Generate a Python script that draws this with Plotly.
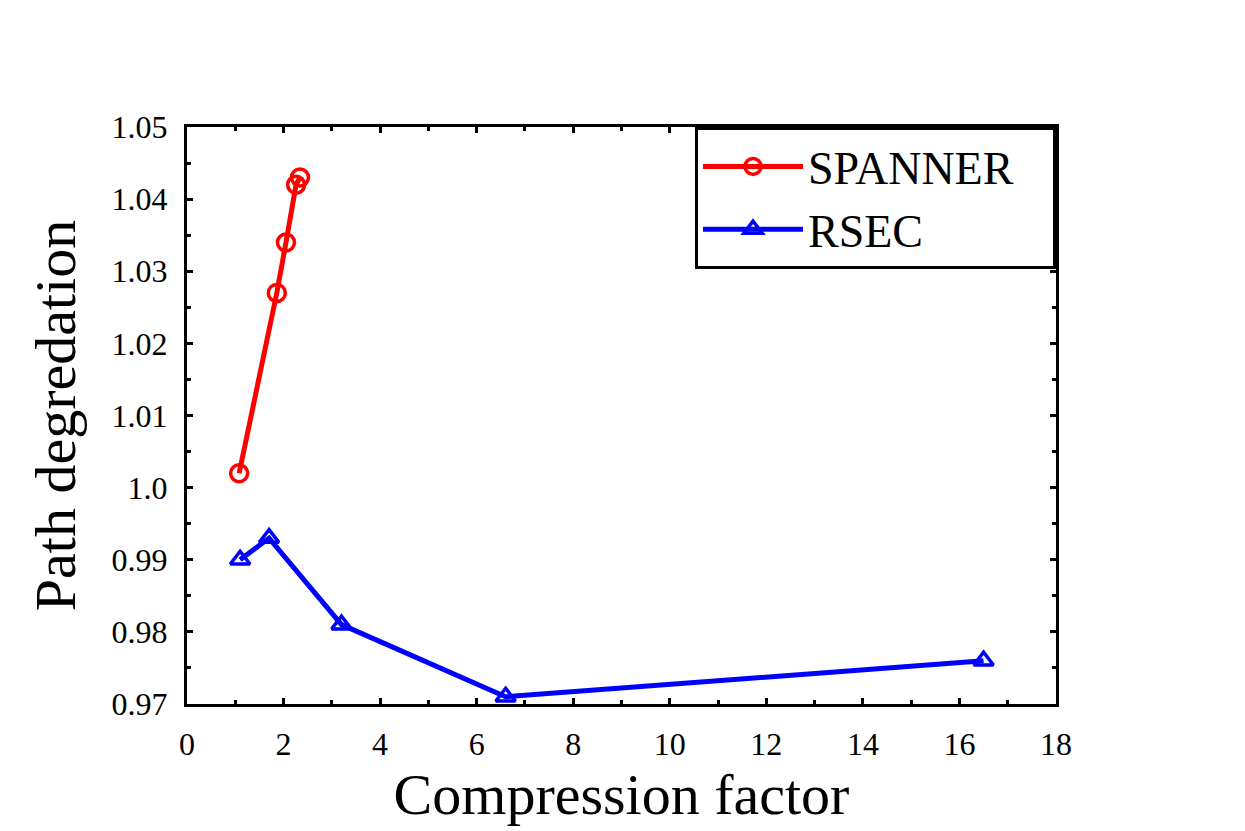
import plotly.graph_objects as go

spanner_x = [1.08, 1.86, 2.05, 2.26, 2.34]
spanner_y = [1.002, 1.027, 1.034, 1.042, 1.043]
rsec_x = [1.10, 1.70, 3.20, 6.60, 16.50]
rsec_y = [0.990, 0.993, 0.981, 0.971, 0.976]

ytickvals = [0.97, 0.98, 0.99, 1.0, 1.01, 1.02, 1.03, 1.04, 1.05]
yticktext = ['0.97', '0.98', '0.99', '1.0', '1.01', '1.02', '1.03', '1.04', '1.05']

serif = 'Liberation Serif'
pad = '\u00a0' * 3  # a little room on the right of the legend text

fig = go.Figure()
fig.add_trace(go.Scatter(
    x=spanner_x, y=spanner_y, name='SPANNER' + pad, mode='lines+markers',
    line=dict(color='#ff0000', width=5),
    marker=dict(symbol='circle-open', size=17, color='#ff0000', line=dict(width=3.5))
))
fig.add_trace(go.Scatter(
    x=rsec_x, y=rsec_y, name='RSEC' + pad, mode='lines+markers',
    line=dict(color='#0000ff', width=5),
    marker=dict(symbol='triangle-up-open', size=17, color='#0000ff', line=dict(width=3.5))
))

ax = dict(
    showgrid=False, zeroline=False, showline=True, linecolor='black', linewidth=3,
    mirror='allticks', ticks='inside', ticklen=6, tickwidth=3, tickcolor='black',
    ticklabelstandoff=10,
    tickfont=dict(family=serif, size=32, color='black')
)

# page body has an 8px margin, so the margins are shifted to compensate
fig.update_layout(
    width=1245, height=831,
    paper_bgcolor='white', plot_bgcolor='white',
    margin=dict(l=179, r=197, t=119, b=135),
    font=dict(family=serif, color='black'),
    xaxis=dict(ax, range=[0, 18], tickvals=list(range(0, 19, 2)),
               minor=dict(ticks='inside', ticklen=4, tickwidth=3, tickcolor='black', dtick=1),
               title=dict(text='Compression factor', font=dict(family=serif, size=58), standoff=6)),
    yaxis=dict(ax, range=[0.97, 1.05], tickvals=ytickvals, ticktext=yticktext,
               minor=dict(ticks='inside', ticklen=4, tickwidth=3, tickcolor='black', dtick=0.005),
               title=dict(text='Path degredation', font=dict(family=serif, size=58), standoff=18)),
    legend=dict(x=1, y=1, xanchor='right', yanchor='top', bordercolor='black', borderwidth=3,
                bgcolor='white', font=dict(family=serif, size=46), itemwidth=100,
                tracegroupgap=0),
    showlegend=True,
)

fig.write_html("out.html")
